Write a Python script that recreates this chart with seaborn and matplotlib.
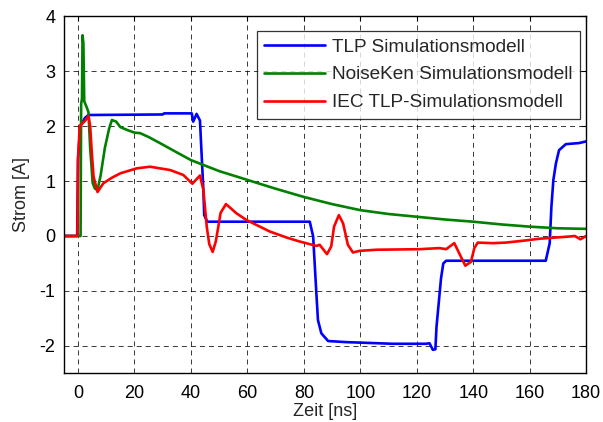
import matplotlib
matplotlib.use("Agg")
import matplotlib.pyplot as plt
import seaborn as sns
import pandas as pd

# ---- data ----
tlp_t = [-5, -0.3, 0, 0.8, 2.5, 3.7, 30, 30.5, 40.3, 40.8, 42, 43.2, 43.5, 44.4, 44.7, 45.8,
         82.1, 83.3, 83.9, 84.5, 85, 86.2, 88.6, 95, 111.5, 123.3, 124.5, 125.7, 126.6, 127,
         128, 128.6, 129.4, 130.4, 165.7, 167.1, 167.7, 168.4, 169.3, 170.4, 172.8, 177.5, 180]
tlp_i = [0, 0, 1.4, 2.0, 2.15, 2.2, 2.21, 2.23, 2.23, 2.08, 2.22, 2.1, 1.78, 0.84, 0.38, 0.26,
         0.26, -0.01, -0.56, -1.1, -1.53, -1.77, -1.91, -1.93, -1.96, -1.96, -1.95, -2.07, -2.06, -1.65,
         -1.1, -0.77, -0.5, -0.45, -0.45, -0.13, 0.53, 1.02, 1.32, 1.56, 1.67, 1.69, 1.72]

nk_t = [-5, 0.9, 1.0, 1.1, 1.4, 1.6, 1.9, 2.2, 3.0, 3.7, 4.3, 5.2, 6.0, 6.9, 8.0, 9.5, 11, 12,
        13.5, 15, 17.3, 20, 22, 25, 29, 35, 40, 50, 60, 70, 80, 90, 100, 110, 120, 130, 140,
        150, 160, 170, 180]
nk_i = [0, 0, 1.2, 2.4, 2.5, 3.65, 3.5, 2.45, 2.35, 2.25, 1.6, 0.96, 0.86, 0.84, 1.1, 1.6, 1.95, 2.11,
        2.08, 1.98, 1.93, 1.88, 1.87, 1.80, 1.69, 1.52, 1.38, 1.18, 1.02, 0.86, 0.71, 0.58, 0.47, 0.40,
        0.35, 0.30, 0.26, 0.21, 0.17, 0.14, 0.13]

iec_t = [-5, -0.2, 0, 0.6, 2.6, 3.7, 4.3, 4.9, 5.5, 6.9, 9, 12, 15, 20.8, 25.5, 29, 32.6, 37.3,
         40.5, 43.2, 44.4, 45.6, 46.5, 47.7, 48.8, 49.7, 50.5, 52.4, 56.2, 59.7, 68, 74, 78.5,
         84.5, 85.6, 88.2, 89.7, 90.7, 92.4, 93.9, 95.6, 97.4, 99.8, 105.7, 121, 128, 130.4,
         133.3, 135, 137.2, 139.2, 140.4, 141.6, 146.9, 151.6, 158.7, 163.4, 174, 176, 178, 180]
iec_i = [0, 0, 1.4, 2.0, 2.1, 2.18, 2.0, 1.5, 1.08, 0.8, 0.96, 1.06, 1.14, 1.23, 1.26, 1.23, 1.2, 1.11,
         0.95, 1.1, 0.84, 0.17, -0.15, -0.29, -0.1, 0.17, 0.42, 0.58, 0.41, 0.29, 0.08, -0.03, -0.1,
         -0.18, -0.16, -0.33, -0.19, 0.17, 0.38, 0.23, -0.16, -0.3, -0.27, -0.25, -0.24, -0.22, -0.24,
         -0.13, -0.31, -0.54, -0.47, -0.22, -0.12, -0.13, -0.12, -0.08, -0.05, -0.01, 0.0, -0.06, 0.0]

labels = ["TLP Simulationsmodell", "NoiseKen Simulationsmodell", "IEC TLP-Simulationsmodell"]
colors = ["#0000ff", "#008000", "#ff0000"]
x_ticks = [0, 20, 40, 60, 80, 100, 120, 140, 160, 180]
y_ticks = [-2, -1, 0, 1, 2, 3, 4]

frames = []
for lab, t, i in zip(labels, [tlp_t, nk_t, iec_t], [tlp_i, nk_i, iec_i]):
    frames.append(pd.DataFrame({"t": t, "i": i, "Modell": lab}))
df = pd.concat(frames, ignore_index=True)

# ---- style ----
sns.set_style("white")
plt.rcParams["font.family"] = ["Liberation Sans", "DejaVu Sans"]
plt.rcParams["lines.scale_dashes"] = False

fig = plt.figure(figsize=(6.03, 4.22), dpi=100)
ax = fig.add_axes([0.106, 0.115, 0.866, 0.847])

sns.lineplot(data=df, x="t", y="i", hue="Modell", hue_order=labels, palette=colors,
             estimator=None, sort=False, linewidth=1.9, ax=ax)

ax.set_xlim(-5, 180)
ax.set_ylim(-2.5, 4)
ax.set_xticks(x_ticks)
ax.set_yticks(y_ticks)
ax.set_xticklabels([str(v) for v in x_ticks])
ax.set_yticklabels([str(v) for v in y_ticks])
ax.grid(True, color="black", linestyle=(0, (3.6, 2.9)), linewidth=0.6, alpha=0.9)
ax.set_axisbelow(True)
for s in ax.spines.values():
    s.set_color("black")
    s.set_linewidth(1.0)
ax.tick_params(direction="in", length=3.5, width=0.8, top=True, right=True,
               labelsize=13, colors="black")
ax.tick_params(axis="x", pad=8)
ax.tick_params(axis="y", pad=6)
ax.set_xlabel("Zeit [ns]", fontsize=13, labelpad=1)
ax.set_ylabel("Strom [A]", fontsize=13, labelpad=7)

handles, labs = ax.get_legend_handles_labels()
leg = ax.legend(handles, labs, loc="upper right", bbox_to_anchor=(0.9885, 0.959),
                borderaxespad=0, fontsize=13.7, frameon=True, fancybox=False,
                handlelength=3.2, handletextpad=0.35, labelspacing=0.55,
                borderpad=0.4, title=None)
leg.get_frame().set_edgecolor("black")
leg.get_frame().set_linewidth(0.9)
for lh in leg.get_lines():
    lh.set_linewidth(1.9)

fig.savefig("out.png", dpi=100, facecolor="white")
